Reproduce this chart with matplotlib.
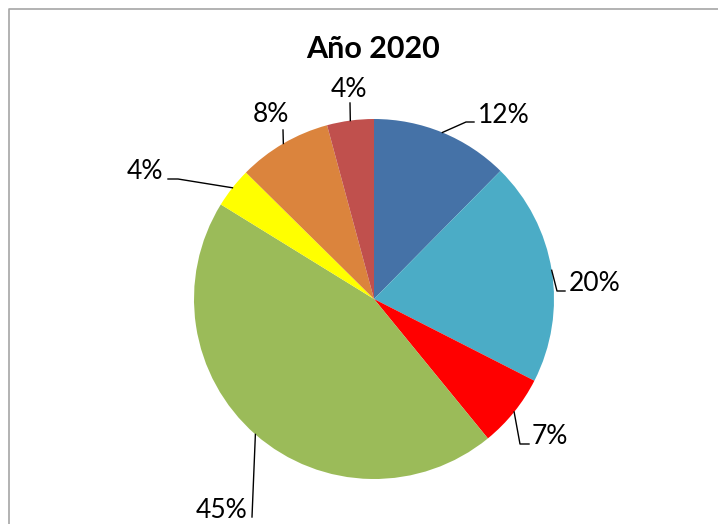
import numpy as np
import matplotlib.pyplot as plt

W, H = 718, 524

title = "Año 2020"
shares = [12.4, 20.1, 6.6, 44.7, 3.6, 8.4, 4.2]
slice_colors = ["#4572A7", "#4BACC6", "#FF0000", "#9BBB59",
                "#FFFF00", "#DB843D", "#C0504D"]

# label layout in pixels (y from top): leader bend points, text anchor, alignment
leader_bends = [
    [(466, 122), (474, 122)],
    [(557, 291), (565, 291)],
    [(520, 444), (529, 444)],
    [(252, 517)],
    [(178, 179), (168, 179)],
    [(283, 130)],
    [(350, 103)],
]
text_pos = [(478, 123), (569, 291), (532, 444), (247, 518),
            (163, 179), (253, 122), (331, 97)]
text_ha = ["left", "left", "left", "right", "right", "left", "left"]

cx, cy, r = 374, 299, 180

fig = plt.figure(figsize=(W / 100, H / 100), dpi=100)
ax = fig.add_axes([0, 0, 1, 1])

wedges, _ = ax.pie(
    shares, colors=slice_colors, startangle=90, counterclock=False,
    center=(cx, H - cy), radius=r, wedgeprops=dict(linewidth=0),
)
ax.set_xlim(0, W)
ax.set_ylim(0, H)
ax.set_aspect("auto")
ax.axis("off")

for w, v, bends, (tx, ty), ha in zip(wedges, shares, leader_bends, text_pos, text_ha):
    mid = np.deg2rad((w.theta1 + w.theta2) / 2)
    xs = [cx + r * np.cos(mid)] + [b[0] for b in bends]
    ys = [H - cy + r * np.sin(mid)] + [H - b[1] for b in bends]
    ax.plot(xs, ys, color="black", lw=1)
    ax.text(tx, H - ty, "{:.0f}%".format(v), ha=ha, va="baseline",
            fontsize=19, family="Lato")

ax.text(373, H - 58, title, ha="center", va="baseline",
        fontsize=22, fontweight="bold", family="Lato")

# chart frame (runs off the right and bottom edges)
ax.plot([9, 9, W + 5], [-5, H - 9, H - 9], color="#A6A6A6", lw=1.2, clip_on=False)

fig.savefig("out.png", dpi=100)
